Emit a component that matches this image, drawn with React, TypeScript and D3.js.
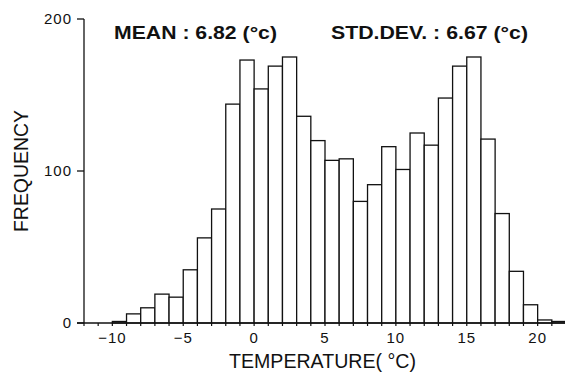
import React from "react";
import * as d3 from "d3";

const binStarts = [-10, -9, -8, -7, -6, -5, -4, -3, -2, -1, 0, 1, 2, 3, 4, 5, 6, 7, 8, 9, 10, 11, 12, 13, 14, 15, 16, 17, 18, 19, 20, 21];
const frequencies = [1, 6, 10, 19, 17, 35, 56, 75, 144, 173, 154, 169, 175, 136, 120, 107, 108, 80, 91, 116, 101, 125, 117, 148, 169, 175, 121, 72, 34, 12, 2, 1];
const xTickValues = [-10, -5, 0, 5, 10, 15, 20];
const yTickValues = [0, 100, 200];
const meanText = "MEAN :  6.82 (°c)";
const stdText = "STD.DEV. :  6.67 (°c)";
const xTitle = "TEMPERATURE( °C)";
const yTitle = "FREQUENCY";

const W = 565;
const H = 372;

export default function App() {
  const x = d3.scaleLinear().domain([-12, 22]).range([84, 566]);
  const y = d3.scaleLinear().domain([0, 200]).range([323, 19]);
  const minorTicks = d3.range(-12, 23, 1);
  const font = "'Liberation Sans', Arial, sans-serif";
  const ink = "#111";
  const fmt = (v: number) => (v < 0 ? "\u2212" + Math.abs(v) : String(v));
  return (
    <svg width={W} height={H} style={{ position: "absolute", left: 0, top: 0, background: "#fff" }}>
      <rect x={0} y={0} width={W} height={H} fill="#fff" />
      {binStarts.map((b, i) => (
        <rect
          key={b}
          x={x(b)}
          y={y(frequencies[i])}
          width={x(b + 1) - x(b)}
          height={y(0) - y(frequencies[i])}
          fill="#fff"
          stroke={ink}
          strokeWidth={1.3}
        />
      ))}
      {/* axes */}
      <line x1={x(-12)} x2={x(-12)} y1={y(200)} y2={y(0)} stroke={ink} strokeWidth={1.3} />
      <line x1={77} x2={W} y1={y(0)} y2={y(0)} stroke={ink} strokeWidth={1.3} />
      {yTickValues.map((t) => (
        <g key={t}>
          <line x1={77} x2={x(-12)} y1={y(t)} y2={y(t)} stroke={ink} strokeWidth={1.3} />
          <text x={72} y={y(t) + 5} textAnchor="end" fontFamily={font} fontSize={15} letterSpacing={1} fill={ink}>
            {t}
          </text>
        </g>
      ))}
      {minorTicks.map((t) => (
        <line key={t} x1={x(t)} x2={x(t)} y1={y(0)} y2={y(0) + 3} stroke={ink} strokeWidth={1.2} />
      ))}
      {xTickValues.map((t) => (
        <text key={t} x={x(t)} y={343} textAnchor="middle" fontFamily={font} fontSize={15} letterSpacing={1} fill={ink}>
          {fmt(t)}
        </text>
      ))}
      <text x={229} y={368} textLength={187} lengthAdjust="spacingAndGlyphs" fontFamily={font} fontSize={20} fill={ink}>
        {xTitle}
      </text>
      <text
        transform={`translate(28,232) rotate(-90)`}
        textLength={122}
        lengthAdjust="spacingAndGlyphs"
        fontFamily={font}
        fontSize={20}
        fill={ink}
      >
        {yTitle}
      </text>
      <text x={114} y={39} textLength={163} lengthAdjust="spacingAndGlyphs" fontFamily={font} fontSize={18} fontWeight="bold" fill={ink}>
        {meanText}
      </text>
      <text x={331} y={39} textLength={197} lengthAdjust="spacingAndGlyphs" fontFamily={font} fontSize={18} fontWeight="bold" fill={ink}>
        {stdText}
      </text>
    </svg>
  );
}
